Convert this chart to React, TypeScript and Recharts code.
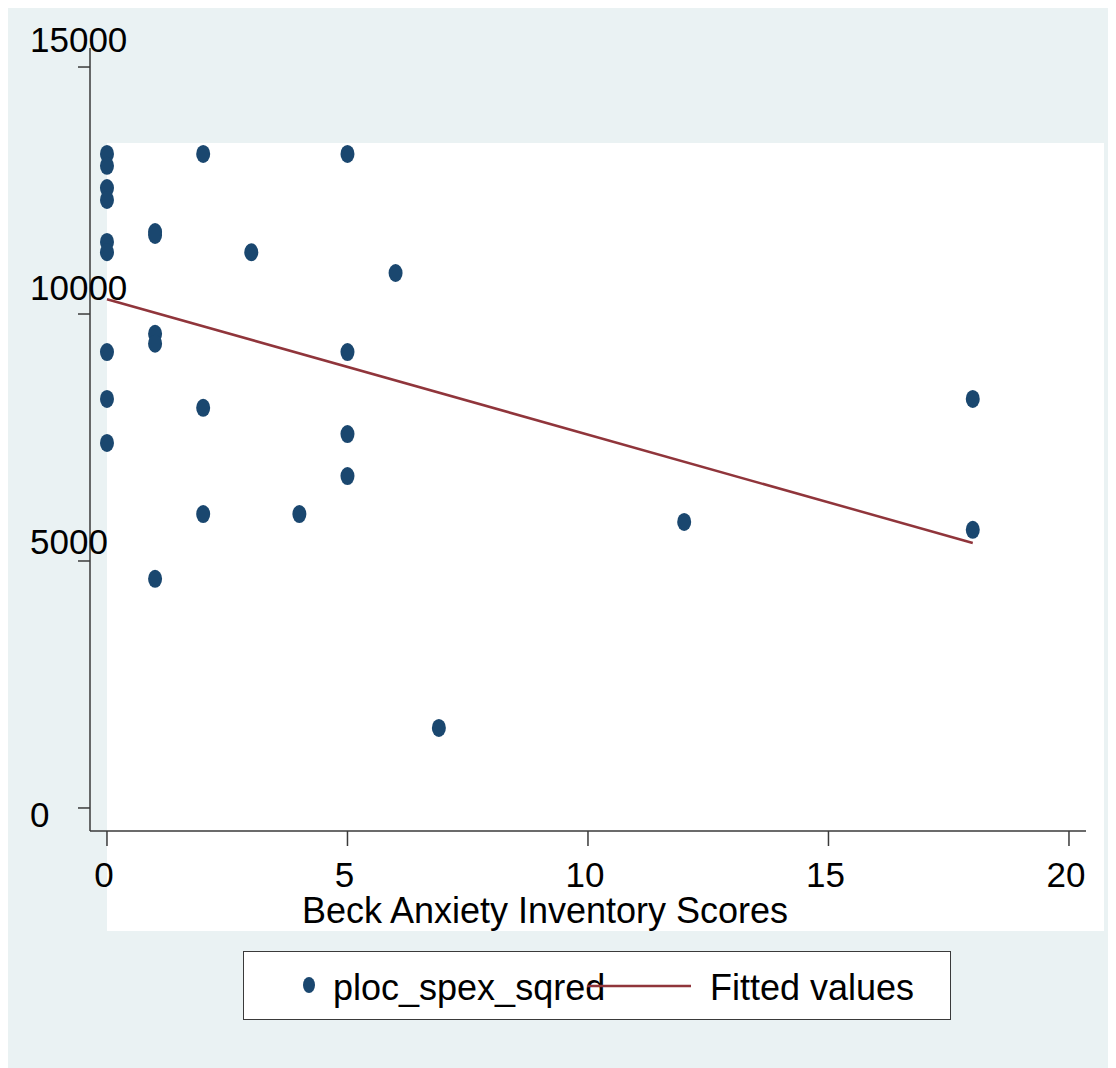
import { ScatterChart, Scatter, XAxis, YAxis } from 'recharts'

// Beck Anxiety Inventory score vs ploc_spex_sqred
const scoreX = [0, 0, 0, 0, 0, 0, 0, 0, 0, 1, 1, 1, 1, 1, 2, 2, 2, 3, 4, 5, 5, 5, 5, 6, 6.9, 12, 18, 18]
const spexY = [
  13240, 13000, 12550, 12310, 11460, 11250, 9230, 8280, 7390,
  11660, 11600, 9600, 9400, 4640,
  13240, 8100, 5950,
  11250,
  5950,
  13240, 9230, 7570, 6720,
  10830,
  1620,
  5790,
  8280, 5630,
]
const fitX = [0, 18]
const fitY = [10300, 5365]
const xTicks = [0, 5, 10, 15, 20]
const yTicks = [0, 5000, 10000, 15000]

const points = scoreX.map((x, i) => ({ x, y: spexY[i] }))
const fitted = fitX.map((x, i) => ({ x, y: fitY[i] }))

const NAVY = '#1A476F'
const MAROON = '#90353B'
const FONT = '"Liberation Sans", Arial, Helvetica, sans-serif'

const yLabelShift: Record<number, number> = { 0: 19, 5000: -7, 10000: -14, 15000: -15 }

function YTick({ y, payload }: any) {
  return (
    <text x={22} y={y + (yLabelShift[payload.value] ?? 0)} fontSize={35} fontFamily={FONT} fill="#000" textAnchor="start">
      {payload.value}
    </text>
  )
}

function XTick({ x, y, payload }: any) {
  return (
    <text x={x - 3} y={y + 39} fontSize={35} fontFamily={FONT} fill="#000" textAnchor="middle">
      {payload.value}
    </text>
  )
}

function Dot({ cx, cy }: any) {
  return <ellipse cx={cx} cy={cy} rx={7} ry={9} fill={NAVY} />
}

export default function App() {
  return (
    <div style={{ position: 'relative', width: 1106, height: 1063, background: '#EAF2F3', marginTop: -3, fontFamily: FONT }}>
      <div style={{ position: 'absolute', left: 99, top: 138, width: 997, height: 788, background: '#fff' }} />
      <div style={{ position: 'absolute', left: 0, top: 0 }}>
        <ScatterChart width={1106} height={1063} margin={{ top: 43, right: 28, left: 22, bottom: 177 }}>
          <XAxis
            type="number"
            dataKey="x"
            domain={[-0.353, 20.354]}
            allowDataOverflow
            ticks={xTicks}
            tickSize={15}
            height={60}
            stroke="#3a3a3a"
            strokeWidth={1.5}
            tick={<XTick />}
            label={{
              content: ({ viewBox }: any) => (
                <text x={viewBox.x + viewBox.width / 2 - 43} y={viewBox.y + 92} fontSize={36} fontFamily={FONT} fill="#000" textAnchor="middle">
                  Beck Anxiety Inventory Scores
                </text>
              ),
            }}
          />
          <YAxis
            type="number"
            dataKey="y"
            domain={[-466, 15385]}
            allowDataOverflow
            ticks={yTicks}
            tickSize={12}
            width={60}
            stroke="#3a3a3a"
            strokeWidth={1.5}
            tick={<YTick />}
          />
          <Scatter data={points} fill={NAVY} shape={<Dot />} isAnimationActive={false} />
          <Scatter
            data={fitted}
            line={{ stroke: MAROON, strokeWidth: 2.5 }}
            shape={() => <g />}
            isAnimationActive={false}
          />
        </ScatterChart>
      </div>
      <div style={{ position: 'absolute', left: 235, top: 946, width: 708, height: 69, background: '#fff', border: '1px solid #3a3a3a', boxSizing: 'border-box' }}>
        <svg width={706} height={67} style={{ display: 'block' }}>
          <ellipse cx={65} cy={33} rx={6} ry={8} fill={NAVY} />
          <text x={89} y={48} fontSize={36} fontFamily={FONT} fill="#000">ploc_spex_sqred</text>
          <line x1={343} x2={447} y1={34} y2={34} stroke={MAROON} strokeWidth={2.5} />
          <text x={466} y={48} fontSize={36} fontFamily={FONT} fill="#000">Fitted values</text>
        </svg>
      </div>
    </div>
  )
}
